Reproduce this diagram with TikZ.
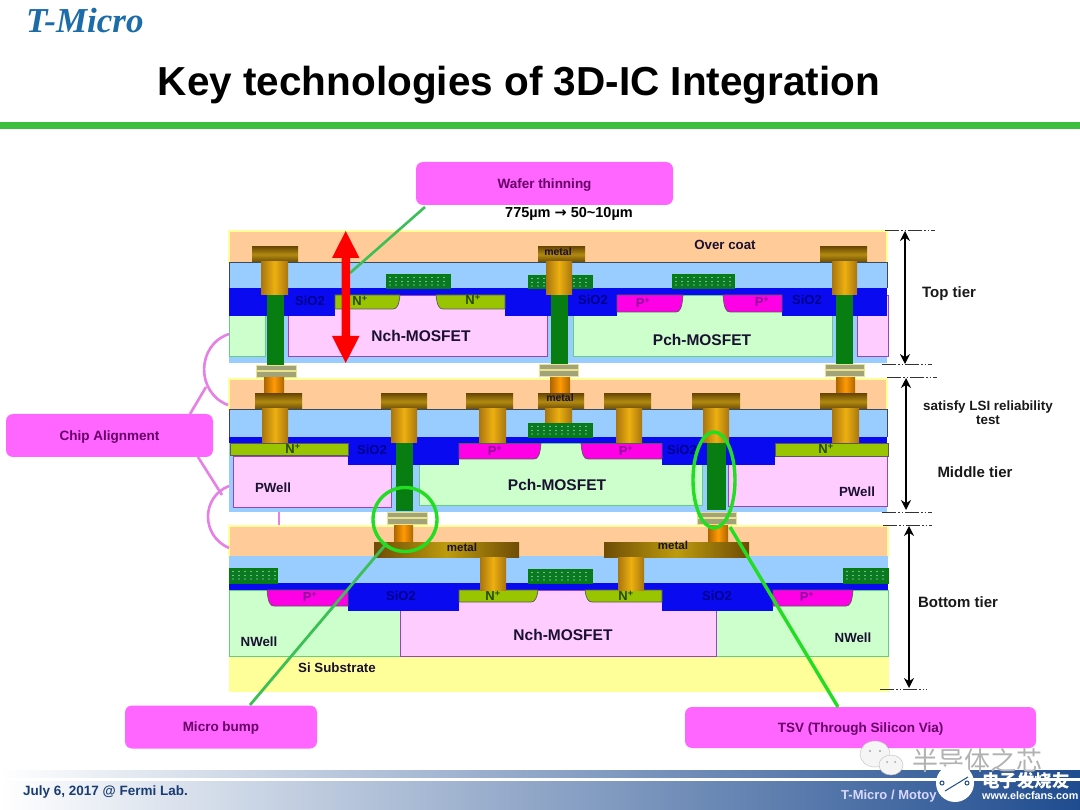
\documentclass[tikz,border=0pt]{standalone}
\usepackage{fontspec}
\setmainfont{Liberation Sans}
\newfontfamily\seriffam{Liberation Serif}
\newfontfamily\cjk{Noto Sans CJK SC}
\newfontfamily\dvfam{DejaVu Sans}
\usetikzlibrary{arrows.meta}
\definecolor{coat}{HTML}{FFCC99}
\definecolor{ltblue}{HTML}{99CCFF}
\definecolor{dkblue}{HTML}{0A0AF0}
\definecolor{pinkw}{HTML}{FFCCFF}
\definecolor{pinke}{HTML}{9A44BB}
\definecolor{greenw}{HTML}{CCFFCC}
\definecolor{greene}{HTML}{66CC88}
\definecolor{yel}{HTML}{FFFF99}
\definecolor{olive}{HTML}{99C400}
\definecolor{mag}{HTML}{FF00E6}
\definecolor{via}{HTML}{077D12}
\definecolor{dotg}{HTML}{0A7A22}
\definecolor{pad}{HTML}{A3A37A}
\definecolor{padedge}{HTML}{E9E38E}
\definecolor{callout}{HTML}{FF66FF}
\definecolor{callink}{HTML}{660066}
\definecolor{chiparc}{HTML}{E67FE6}
\definecolor{lime}{HTML}{22DD22}
\definecolor{mline}{HTML}{3CBF55}
\definecolor{navy}{HTML}{1F4C8F}
\definecolor{topline}{HTML}{3CBF3C}
\definecolor{capd}{HTML}{6E4C05}
\definecolor{capm}{HTML}{B28A10}
\definecolor{stemd}{HTML}{A8750F}
\definecolor{stemm}{HTML}{EDB010}
\definecolor{stubd}{HTML}{AD6500}
\definecolor{stubm}{HTML}{FF9A05}
\definecolor{siotxt}{HTML}{00008C}
\definecolor{ntxt}{HTML}{2A4A00}
\definecolor{ptxt}{HTML}{8C0F9A}
\definecolor{edgek}{HTML}{3A4A5A}
\definecolor{labk}{HTML}{1A1030}
\definecolor{logoblue}{HTML}{1B6CA8}
\tikzset{
  x=1pt,y=-1pt,
  coatbox/.style={fill=coat,draw=yel,line width=1.6pt},
  layerbox/.style={fill=ltblue},
  layeredge/.style={draw=edgek,line width=.9pt},
  bluebox/.style={fill=dkblue},
  pwell/.style={fill=pinkw,draw=pinke,line width=.9pt},
  nwell/.style={fill=greenw,draw=greene,line width=.9pt},
  nplus/.style={fill=olive,draw=black!65,line width=.7pt},
  pplus/.style={fill=mag,draw=black!65,line width=.7pt},
  viabox/.style={fill=via},
  padbox/.style={fill=pad,draw=padedge,line width=.8pt},
  capbox/.style={top color=capd,bottom color=capd,middle color=capm},
  stembox/.style={left color=stemd,right color=stemd,middle color=stemm},
  stubbox/.style={left color=stubd,right color=stubd,middle color=stubm},
  barbox/.style={left color=capd,right color=capd,middle color=capm!85!yellow},
  callbox/.style={fill=callout,rounded corners=7pt,minimum height=43pt,inner sep=0pt,
     text height=9.5pt,text depth=0pt,
     font=\bfseries\fontsize{13.5}{15}\selectfont,text=callink},
  lab/.style={inner sep=0pt,font=\fontsize{13.3}{15}\selectfont\bfseries,text=labk},
  sio/.style={inner sep=0pt,font=\fontsize{13}{15}\selectfont\bfseries,text=siotxt},
  nlab/.style={inner sep=0pt,font=\fontsize{13}{15}\selectfont\bfseries,text=ntxt},
  plab/.style={inner sep=0pt,font=\fontsize{13}{15}\selectfont\bfseries,text=ptxt},
  biglab/.style={inner sep=0pt,font=\fontsize{15.5}{18}\selectfont\bfseries,text=labk},
  tierlab/.style={inner sep=0pt,font=\fontsize{15}{18}\selectfont\bfseries,text=black!90},
  dimline/.style={draw=black!80,line width=.8pt,dash pattern=on 14pt off 2pt on 1.5pt off 2pt on 1.5pt off 2pt},
  dimarrow/.style={draw=black,line width=2pt,{Stealth[length=10pt,width=10pt]}-{Stealth[length=10pt,width=10pt]}},
  archline/.style={draw=chiparc,line width=2.6pt},
  ringline/.style={draw=lime,line width=3.4pt},
}
\newcommand{\bx}[5]{\path[#5] (#1,#2) rectangle (#3,#4);}
\newcommand{\dotbox}[4]{%
  \path[fill=dotg,draw=black!50!green,line width=.4pt] (#1,#2) rectangle (#3,#4);
  \pgfmathsetmacro{\xa}{#1+4}\pgfmathsetmacro{\xb}{#1+10}\pgfmathsetmacro{\xz}{#3-2}
  \foreach \px in {\xa,\xb,...,\xz}{\foreach \dy in {3.5,7.5,11}{\fill[white!90!green] (\px,{#2+\dy}) circle (.55pt);}}}
\newcommand{\stud}[7]{%
  \bx{#1}{#3}{#2}{#4}{capbox}
  \bx{#5}{#4}{#6}{#7}{stembox}}
\newcommand{\padpair}[3]{%
  \bx{#1}{#3}{#2}{#3+5.5}{padbox}
  \bx{#1}{#3+6.3}{#2}{#3+12}{padbox}}
\newcommand{\difR}[5]{\path[#5] (#1,#2) -- (#1,#4) -- ({#3-7},#4) .. controls ({#3-3},#4) and ({#3-1},{#4-4}) .. (#3,#2) -- cycle;}
\newcommand{\difL}[5]{\path[#5] (#3,#2) -- (#3,#4) -- ({#1+7},#4) .. controls ({#1+3},#4) and ({#1+1},{#4-4}) .. (#1,#2) -- cycle;}
\newcommand{\plusmark}[1]{#1\textsuperscript{+}}

\begin{document}
\begin{tikzpicture}
\useasboundingbox (0,0) rectangle (1080,810);
\fill[white] (0,0) rectangle (1080,810);

% header
\node[anchor=west,inner sep=0pt,text=logoblue] (logo) at (26,21)
  {\seriffam\bfseries\itshape\fontsize{35}{38}\selectfont T-Micro};
\node[inner sep=0pt,text=black] (title) at (519,85)
  {\bfseries\fontsize{40.5}{46}\selectfont Key technologies of 3D-IC Integration};
\fill[topline] (0,122) rectangle (1080,129);

% ================= TOP TIER
\bx{229}{231}{887}{263}{coatbox}
\bx{229}{262}{887}{363}{layerbox}
\draw[layeredge] (229,288) -- (229,262) -- (887,262) -- (887,288);
\bx{288}{295}{547}{356}{pwell}
\bx{229}{300}{265}{356}{nwell}
\bx{573}{295}{832}{356}{nwell}
\bx{857}{295}{888}{356}{pwell}
\bx{229}{288}{887}{295}{bluebox}
\bx{229}{288}{335}{316}{bluebox}
\bx{505}{288}{617}{316}{bluebox}
\bx{782}{288}{887}{316}{bluebox}
\difR{335}{295}{400}{309}{nplus}
\difL{436}{295}{505}{309}{nplus}
\difR{617}{295}{683}{312}{pplus}
\difL{723}{295}{782}{312}{pplus}
\dotbox{386}{274}{450}{288}
\dotbox{528}{275}{592}{288}
\dotbox{672}{274}{734}{288}
\bx{267}{295}{284}{365}{viabox}
\bx{551}{295}{568}{365}{viabox}
\bx{836}{295}{853}{365}{viabox}
\stud{252}{298}{247}{262}{261}{288}{295}
\stud{538}{585}{247}{262}{546}{572}{295}
\stud{820}{867}{247}{262}{832}{857}{295}
\padpair{256}{296}{365}
\padpair{539}{578}{364}
\padpair{825}{864}{364}

\node[lab,font=\fontsize{10.5}{12}\selectfont\bfseries] (m1) at (558,252) {metal};
\node[lab] (oc) at (725,245) {Over coat};
\node[sio] (s1) at (310,301) {SiO2};
\node[sio] (s2) at (593,300) {SiO2};
\node[sio] (s3) at (807,300) {SiO2};
\node[nlab] (n1) at (360,301) {\plusmark{N}};
\node[nlab] (n2) at (473,300) {\plusmark{N}};
\node[plab] (p1) at (643,303) {\plusmark{P}};
\node[plab] (p2) at (762,302) {\plusmark{P}};
\node[biglab] (nch1) at (421,336) {Nch-MOSFET};
\node[biglab] (pch1) at (702,340) {Pch-MOSFET};

% ================= MIDDLE TIER
\bx{229}{379}{887}{410}{coatbox}
\bx{229}{409}{887}{512}{layerbox}
\draw[layeredge] (229,437) -- (229,409) -- (887,409) -- (887,437);
\bx{233}{456}{391}{507}{pwell}
\bx{728}{456}{887}{506}{pwell}
\bx{419}{443}{702}{505}{nwell}
\bx{229}{437}{887}{443.5}{bluebox}
\bx{348}{443}{459}{465}{bluebox}
\bx{662}{443}{775}{465}{bluebox}
\bx{230}{443}{348}{455.5}{nplus}
\bx{775}{443}{888}{456}{nplus}
\difR{459}{443.5}{541}{459}{pplus}
\difL{581}{443.5}{662}{459}{pplus}
\dotbox{528}{423}{592}{437}
\bx{396}{443}{413}{511}{viabox}
\bx{707}{443}{726}{510}{viabox}
\bx{264}{378}{284}{394}{stubbox}
\bx{550}{378}{570}{394}{stubbox}
\bx{836}{378}{855}{394}{stubbox}
\stud{255}{302}{394}{409}{262}{288}{443}
\stud{381}{427}{394}{409}{391}{417}{443}
\stud{466}{513}{394}{409}{479}{506}{443}
\stud{538}{584}{394}{409}{545}{572}{423}
\stud{604}{651}{394}{409}{616}{642}{443}
\stud{692}{740}{394}{409}{703}{729}{443}
\stud{820}{867}{394}{409}{832}{859}{443}
\padpair{387}{427}{512}
\padpair{697}{736}{512}

\node[lab,font=\fontsize{10.5}{12}\selectfont\bfseries] (m2) at (560,398) {metal};
\node[sio] (s4) at (372,450) {SiO2};
\node[sio] (s5) at (682,450) {SiO2};
\node[nlab] (n3) at (293,449) {\plusmark{N}};
\node[nlab] (n4) at (826,449) {\plusmark{N}};
\node[plab] (p3) at (495,451) {\plusmark{P}};
\node[plab] (p4) at (626,451) {\plusmark{P}};
\node[lab] (pw1) at (273,488) {PWell};
\node[lab] (pw2) at (857,492) {PWell};
\node[biglab] (pch2) at (557,485) {Pch-MOSFET};

% ================= BOTTOM TIER
\bx{229}{526}{888}{557}{coatbox}
\bx{229}{556}{888}{583}{layerbox}
\bx{229}{590}{400}{656}{nwell}
\bx{716}{590}{888}{656}{nwell}
\bx{400}{590}{716}{656}{pwell}
\bx{229}{657}{888}{691}{fill=yel,draw=yel}
\bx{229}{583}{888}{590}{bluebox}
\bx{348}{590}{459}{611}{bluebox}
\bx{662}{590}{773}{611}{bluebox}
\difL{267}{590}{348}{606}{pplus}
\difR{773}{590}{853}{606}{pplus}
\difR{459}{590}{538}{602}{nplus}
\difL{585}{590}{662}{602}{nplus}
\dotbox{229}{568}{277}{583}
\dotbox{528}{569}{592}{583}
\dotbox{843}{568}{888}{583}
\bx{394}{525}{413}{542}{stubbox}
\bx{708}{525}{728}{541}{stubbox}
\bx{374}{542}{519}{557}{barbox}
\bx{604}{542}{749}{557}{barbox}
\bx{480}{557}{506}{590}{stembox}
\bx{618}{557}{644}{590}{stembox}

\node[lab,font=\fontsize{11.5}{12}\selectfont\bfseries] (m3) at (462,547) {metal};
\node[lab,font=\fontsize{11.5}{12}\selectfont\bfseries] (m4) at (673,545) {metal};
\node[sio] (s6) at (401,596) {SiO2};
\node[sio] (s7) at (717,596) {SiO2};
\node[plab] (p5) at (310,597) {\plusmark{P}};
\node[plab] (p6) at (807,597) {\plusmark{P}};
\node[nlab] (n5) at (493,596) {\plusmark{N}};
\node[nlab] (n6) at (626,596) {\plusmark{N}};
\node[lab] (nw1) at (259,642) {NWell};
\node[lab] (nw2) at (853,638) {NWell};
\node[biglab] (nch2) at (563,635) {Nch-MOSFET};
\node[lab] (si) at (337,668) {Si Substrate};

% ================= CALLOUTS
\node[callbox,minimum width=257pt] (cw) at (544.5,183.5) {Wafer thinning};
\node[callbox,minimum width=207pt] (cc) at (109.5,435.5) {Chip Alignment};
\node[callbox,minimum width=192pt] (cb) at (221,727) {Micro bump};
\node[callbox,minimum width=351pt,minimum height=41pt] (ct) at (860.5,727.5) {TSV (Through Silicon Via)};
\node[inner sep=0pt,text=black,font=\bfseries\fontsize{14.5}{16}\selectfont] (wt) at (569,214) {775µm {\dvfam→} 50\textasciitilde10µm};

% wafer-thinning leader and red arrow
\coordinate (wend) at (350,273);
\draw[mline,line width=2.6pt] (425,207) -- (wend);
\fill[red] (345.7,231) -- (359.5,258) -- (350,258) -- (350,336) -- (359.5,336) -- (345.7,363)
  -- (332,336) -- (341.5,336) -- (341.5,258) -- (332,258) -- cycle;

% chip alignment arcs
\coordinate (a1) at (229,334); \coordinate (a2) at (228,405);
\coordinate (a3) at (229,486); \coordinate (a4) at (229,548);
\coordinate (a5) at (206,387); \coordinate (a6) at (222,495);
\coordinate (a7) at (279,512); \coordinate (a8) at (279,525);
\draw[archline] (a1) .. controls (196,345) and (196,393) .. (a2);
\draw[archline] (a3) .. controls (201,497) and (201,536) .. (a4);
\draw[archline] (190,414) -- (a5);
\draw[archline] (198,457) -- (a6);
\draw[archline] (a7) -- (a8);

% rings and leaders
\coordinate (rb) at (387,543);
\coordinate (rt) at (730,527);
\draw[mline,line width=2.8pt] (250,705) -- (rb);
\draw[ringline] (405,519.5) circle (32);
\draw[ringline] (714,480) ellipse (21 and 48);
\draw[lime,line width=3.4pt] (838,707) -- (rt);

% dimension marks
\draw[dimline] (885,230) -- (935,230);
\draw[dimline] (882,364) -- (932,364);
\draw[dimline] (887,377) -- (937,377);
\draw[dimline] (882,512) -- (932,512);
\draw[dimline] (883,525) -- (932,525);
\draw[dimline] (880,689) -- (927,689);
\coordinate (d1) at (905,231); \coordinate (d2) at (905,364);
\coordinate (d3) at (906,378); \coordinate (d4) at (906,510);
\coordinate (d5) at (909,526); \coordinate (d6) at (909,688);
\draw[dimarrow] (d1) -- (d2);
\draw[dimarrow] (d3) -- (d4);
\draw[dimarrow] (d5) -- (d6);
\node[tierlab] (tt) at (949,294) {Top tier};
\node[tierlab] (mt) at (975,472) {Middle tier};
\node[tierlab] (bt) at (958,602) {Bottom tier};
\node[inner sep=0pt,align=center,text=black!90,font=\bfseries\fontsize{13.4}{14}\selectfont] (sat) at (988,413) {satisfy LSI reliability\\test};

% footer
\shade[left color=white,middle color=blue!25!black!45!white,right color=navy] (0,770) rectangle (1080,777);
\shade[left color=white,middle color=blue!45!black!35!white,right color=navy] (0,781) rectangle (1080,810);
\node[anchor=west,inner sep=0pt,text=navy!80!black,font=\bfseries\fontsize{13.5}{15}\selectfont] (fd) at (23,792) {July 6, 2017 @ Fermi Lab.};
\node[anchor=west,inner sep=0pt,text=white!85!blue,font=\bfseries\fontsize{13}{15}\selectfont] (fa) at (841,796) {T-Micro / Motoy};

% watermark
\path[fill=white!92!gray,draw=gray!45,line width=.5pt] (875,754) ellipse (15 and 13);
\path[fill=white!92!gray,draw=gray!45,line width=.5pt] (891,765) ellipse (12 and 10);
\fill[gray!70] (870,751) circle (1.1) (880,751) circle (1.1) (887,762) circle (1) (895,762) circle (1);
\node[anchor=west,inner sep=0pt,text=gray!60!white,font=\cjk\fontsize{26}{28}\selectfont] (wm) at (912,761) {半导体之芯};
\fill[white] (955,783) circle (19);
\draw[navy,line width=1pt] (945,791) -- (968,777) (942,783) circle (2) (967,783) circle (2);
\node[anchor=west,inner sep=0pt,text=white,font=\cjk\bfseries\fontsize{17.5}{19}\selectfont] (ef) at (982,781) {电子发烧友};
\node[anchor=west,inner sep=0pt,text=white,font=\bfseries\fontsize{10.8}{12}\selectfont] (eu) at (982,796) {www.elecfans.com};
\end{tikzpicture}
\end{document}
